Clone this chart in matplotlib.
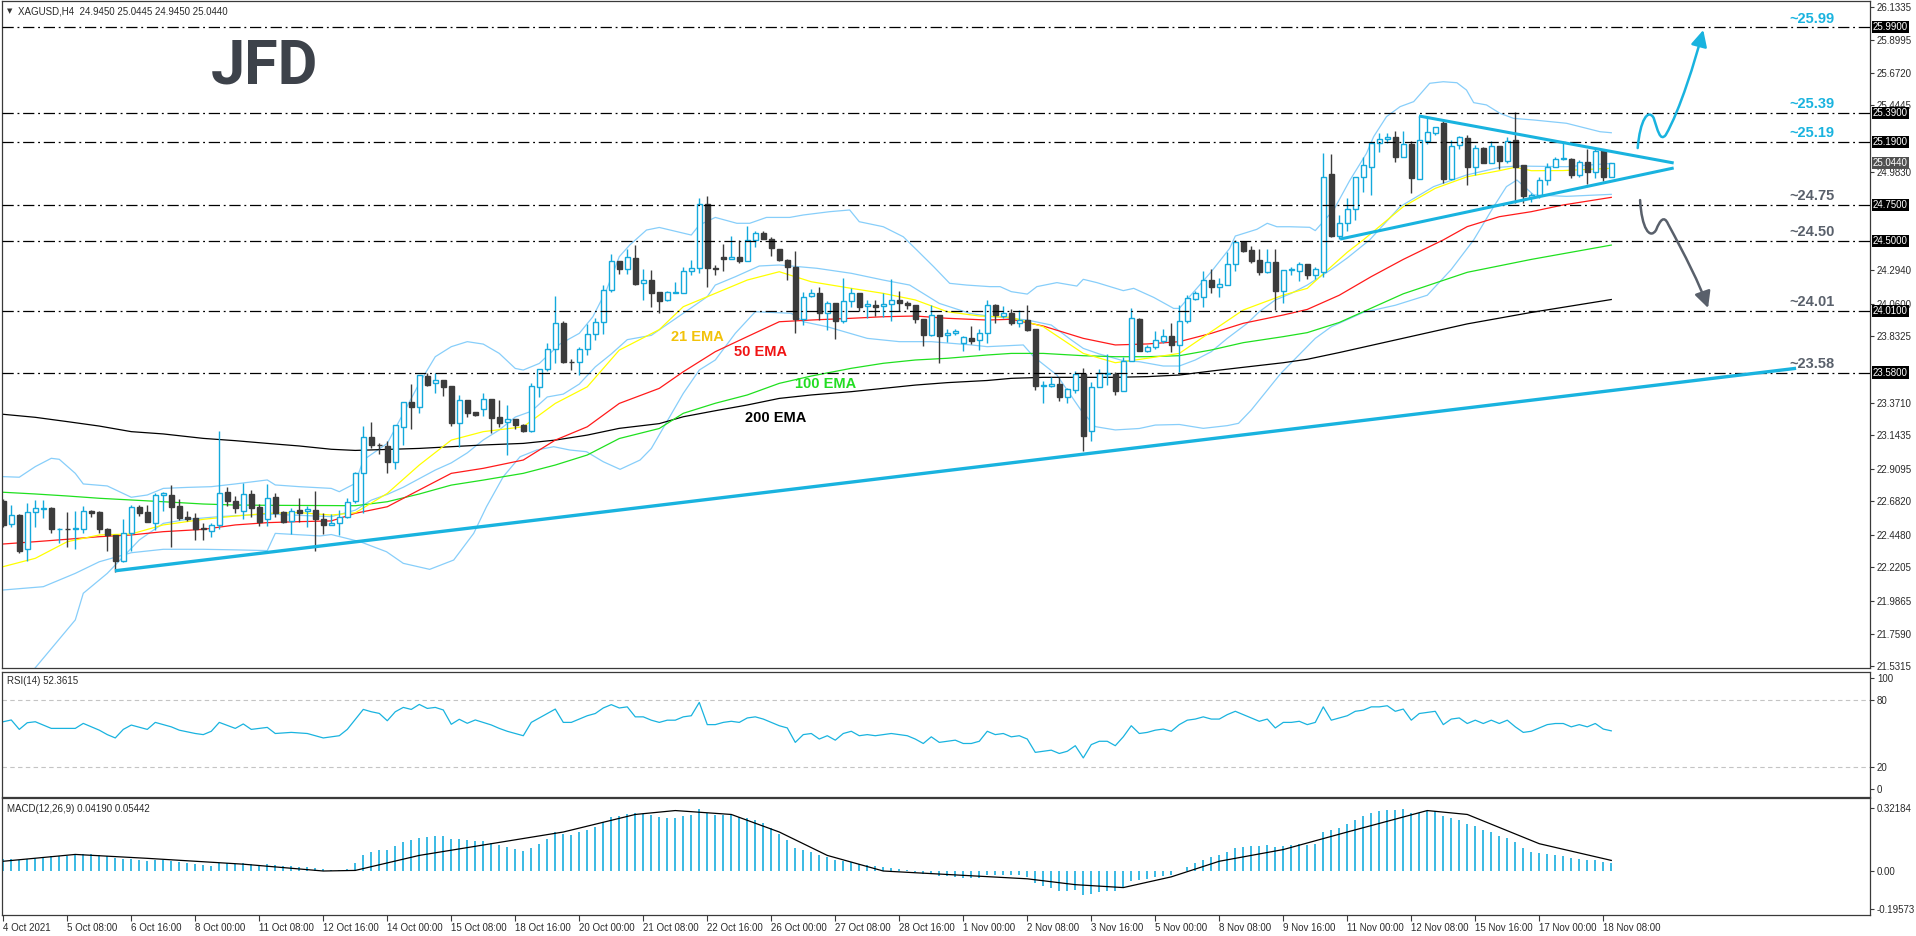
import matplotlib
matplotlib.use("Agg")
import matplotlib.pyplot as plt
import matplotlib.transforms as mtransforms
from matplotlib.path import Path
from matplotlib.patches import FancyArrowPatch
import numpy as np

# XAGUSD H4 candles, 4 Oct 2021 00:00 .. 18 Nov 2021 12:00
opens = [22.682, 22.524, 22.589, 22.347, 22.605, 22.626, 22.635, 22.486, 22.490, 22.486,
         22.486, 22.612, 22.607, 22.491, 22.445, 22.268, 22.458, 22.640, 22.607, 22.533,
         22.724, 22.724, 22.649, 22.575, 22.565, 22.491, 22.477, 22.514, 22.747, 22.686,
         22.617, 22.733, 22.645, 22.561, 22.710, 22.607, 22.542, 22.621, 22.612, 22.621,
         22.561, 22.519, 22.528, 22.570, 22.681, 22.877, 23.128, 23.075, 23.068, 22.958,
         23.202, 23.372, 23.342, 23.556, 23.505, 23.528, 23.486, 23.230, 23.389, 23.305,
         23.328, 23.393, 23.270, 23.237, 23.254, 23.214, 23.175, 23.482, 23.602, 23.742,
         23.924, 23.654, 23.651, 23.742, 23.847, 23.935, 24.154, 24.361, 24.300, 24.379,
         24.203, 24.226, 24.142, 24.087, 24.138, 24.138, 24.287, 24.308, 24.756, 24.310,
         24.384, 24.375, 24.384, 24.361, 24.505, 24.556, 24.515, 24.440, 24.366, 24.315,
         23.956, 24.114, 24.133, 23.994, 24.068, 23.938, 24.077, 24.138, 24.045, 24.049,
         24.045, 24.059, 24.087, 24.068, 24.049, 23.956, 23.845, 23.980, 23.840, 23.854,
         23.784, 23.821, 23.807, 23.859, 24.049, 23.975, 23.994, 23.924, 23.947, 23.887,
         23.487, 23.487, 23.501, 23.412, 23.459, 23.570, 23.170, 23.482, 23.570, 23.570,
         23.454, 23.659, 23.956, 23.733, 23.756, 23.798, 23.835, 23.775, 23.938, 24.096,
         24.110, 24.226, 24.180, 24.194, 24.338, 24.491, 24.435, 24.366, 24.282, 24.352,
         24.147, 24.296, 24.291, 24.338, 24.261, 24.280, 24.966, 24.533, 24.627, 24.720,
         24.943, 25.017, 25.180, 25.213, 25.222, 25.087, 25.175, 24.934, 25.199, 25.255,
         25.324, 24.933, 25.166, 25.217, 25.017, 25.147, 25.045, 25.161, 25.059, 25.203,
         25.027, 24.808, 24.822, 24.924, 25.017, 25.071, 25.068, 24.961, 25.050, 24.980,
         25.134, 24.945]
highs = [22.700, 22.654, 22.593, 22.672, 22.691, 22.691, 22.640, 22.493, 22.607, 22.617,
         22.649, 22.621, 22.612, 22.496, 22.449, 22.556, 22.654, 22.658, 22.654, 22.738,
         22.747, 22.793, 22.696, 22.612, 22.598, 22.528, 22.528, 23.175, 22.784, 22.719,
         22.812, 22.761, 22.663, 22.803, 22.742, 22.612, 22.635, 22.705, 22.649, 22.752,
         22.598, 22.593, 22.621, 22.702, 22.888, 23.207, 23.235, 23.086, 23.100, 23.212,
         23.372, 23.500, 23.561, 23.579, 23.579, 23.528, 23.486, 23.421, 23.389, 23.305,
         23.435, 23.393, 23.389, 23.351, 23.254, 23.221, 23.505, 23.602, 23.789, 24.114,
         23.942, 23.677, 23.761, 23.919, 23.961, 24.191, 24.407, 24.361, 24.440, 24.468,
         24.305, 24.296, 24.142, 24.152, 24.212, 24.315, 24.366, 24.798, 24.812, 24.328,
         24.477, 24.533, 24.505, 24.603, 24.566, 24.570, 24.524, 24.440, 24.375, 24.431,
         24.142, 24.161, 24.180, 24.077, 24.068, 24.240, 24.170, 24.138, 24.087, 24.087,
         24.133, 24.235, 24.152, 24.082, 24.049, 23.956, 24.049, 23.980, 23.887, 23.882,
         23.835, 23.905, 23.882, 24.087, 24.059, 24.045, 24.026, 24.017, 24.049, 23.887,
         23.524, 23.547, 23.552, 23.472, 23.589, 23.612, 23.514, 23.607, 23.710, 23.584,
         23.691, 24.031, 23.961, 23.775, 23.873, 23.887, 23.924, 24.049, 24.119, 24.147,
         24.287, 24.301, 24.240, 24.422, 24.505, 24.496, 24.463, 24.440, 24.440, 24.440,
         24.296, 24.319, 24.352, 24.338, 24.320, 25.115, 25.106, 24.682, 24.799, 24.947,
         25.087, 25.189, 25.250, 25.255, 25.268, 25.268, 25.199, 25.371, 25.361, 25.292,
         25.352, 25.203, 25.231, 25.241, 25.166, 25.152, 25.199, 25.161, 25.227, 25.399,
         25.027, 24.831, 24.943, 25.040, 25.087, 25.199, 25.078, 25.064, 25.138, 25.147,
         25.138, 25.0445]
lows = [22.500, 22.500, 22.319, 22.268, 22.505, 22.565, 22.458, 22.389, 22.361, 22.351,
        22.458, 22.575, 22.458, 22.337, 22.189, 22.258, 22.337, 22.579, 22.538, 22.482,
        22.617, 22.365, 22.551, 22.547, 22.412, 22.412, 22.430, 22.491, 22.649, 22.598,
        22.561, 22.575, 22.510, 22.510, 22.575, 22.533, 22.454, 22.538, 22.505, 22.333,
        22.454, 22.514, 22.446, 22.565, 22.672, 22.598, 23.051, 23.012, 22.881, 22.905,
        23.075, 23.184, 23.300, 23.486, 23.435, 23.416, 23.207, 23.063, 23.268, 23.277,
        23.277, 23.156, 23.202, 23.002, 23.184, 23.168, 23.168, 23.412, 23.589, 23.644,
        23.644, 23.598, 23.561, 23.703, 23.807, 23.851, 24.144, 24.268, 24.268, 24.191,
        24.086, 24.040, 23.994, 24.077, 24.138, 24.138, 24.259, 24.277, 24.175, 24.263,
        24.287, 24.370, 24.342, 24.361, 24.459, 24.510, 24.394, 24.361, 24.226, 23.859,
        23.910, 24.110, 23.947, 23.877, 23.817, 23.924, 24.040, 24.012, 23.961, 23.975,
        23.970, 23.942, 24.007, 24.026, 23.924, 23.766, 23.835, 23.645, 23.793, 23.845,
        23.728, 23.780, 23.738, 23.784, 23.924, 23.961, 23.914, 23.901, 23.868, 23.459,
        23.370, 23.477, 23.384, 23.370, 23.440, 23.030, 23.100, 23.477, 23.491, 23.426,
        23.449, 23.659, 23.733, 23.724, 23.742, 23.784, 23.724, 23.584, 23.924, 24.087,
        24.040, 24.138, 24.110, 24.189, 24.291, 24.422, 24.343, 24.259, 24.277, 24.017,
        24.068, 24.259, 24.217, 24.235, 24.230, 24.250, 24.524, 24.510, 24.571, 24.645,
        24.840, 24.822, 25.120, 25.180, 25.050, 25.087, 24.836, 24.929, 25.175, 25.241,
        24.901, 24.924, 25.143, 24.892, 24.957, 25.040, 25.040, 24.999, 25.045, 24.761,
        24.761, 24.771, 24.799, 24.887, 25.013, 25.064, 24.938, 24.947, 24.896, 24.938,
        24.919, 24.945]
closes = [22.519, 22.584, 22.338, 22.605, 22.633, 22.635, 22.486, 22.490, 22.486, 22.496,
          22.612, 22.603, 22.486, 22.445, 22.268, 22.458, 22.640, 22.603, 22.538, 22.724,
          22.738, 22.645, 22.565, 22.561, 22.486, 22.489, 22.514, 22.738, 22.686, 22.635,
          22.733, 22.635, 22.538, 22.705, 22.603, 22.538, 22.617, 22.603, 22.626, 22.561,
          22.519, 22.528, 22.570, 22.677, 22.877, 23.128, 23.072, 23.072, 22.958, 23.212,
          23.372, 23.337, 23.561, 23.493, 23.528, 23.482, 23.230, 23.389, 23.300, 23.286,
          23.393, 23.265, 23.230, 23.254, 23.214, 23.175, 23.486, 23.602, 23.742, 23.924,
          23.651, 23.651, 23.742, 23.847, 23.930, 24.154, 24.356, 24.300, 24.384, 24.198,
          24.224, 24.137, 24.082, 24.142, 24.142, 24.287, 24.310, 24.756, 24.308, 24.301,
          24.375, 24.384, 24.361, 24.505, 24.552, 24.515, 24.447, 24.366, 24.315, 23.956,
          24.110, 24.133, 23.998, 24.068, 23.938, 24.077, 24.138, 24.040, 24.059, 24.040,
          24.059, 24.087, 24.063, 24.049, 23.956, 23.845, 23.980, 23.835, 23.854, 23.868,
          23.826, 23.803, 23.859, 24.049, 23.980, 23.994, 23.924, 23.947, 23.877, 23.487,
          23.493, 23.501, 23.412, 23.463, 23.570, 23.140, 23.482, 23.575, 23.575, 23.454,
          23.659, 23.961, 23.733, 23.756, 23.808, 23.835, 23.775, 23.942, 24.101, 24.138,
          24.226, 24.180, 24.198, 24.338, 24.491, 24.426, 24.356, 24.282, 24.352, 24.152,
          24.296, 24.298, 24.338, 24.261, 24.300, 24.948, 24.533, 24.627, 24.720, 24.943,
          25.027, 25.180, 25.213, 25.227, 25.087, 25.173, 24.938, 25.203, 25.259, 25.292,
          24.933, 25.161, 25.222, 25.017, 25.147, 25.045, 25.161, 25.059, 25.199, 25.013,
          24.813, 24.817, 24.924, 25.017, 25.068, 25.073, 24.961, 25.050, 24.980, 25.129,
          24.948, 25.044]

# indicator lines as (bar, value)
ema21 = [(0, 22.226), (4, 22.284), (8, 22.400), (12, 22.447), (16, 22.454), (20, 22.517), (25, 22.556),
         (29, 22.579), (33, 22.598), (37, 22.603), (41, 22.586), (44, 22.602), (48, 22.737), (52, 22.935),
         (56, 23.109), (60, 23.168), (65, 23.202), (69, 23.365), (73, 23.481), (77, 23.737), (82, 23.880),
         (85, 24.040), (89, 24.133), (93, 24.226), (97, 24.284), (101, 24.214), (106, 24.168), (110, 24.133),
         (114, 24.087), (118, 24.005), (122, 23.975), (126, 23.966), (130, 23.900), (135, 23.714),
         (139, 23.649), (143, 23.680), (147, 23.714), (151, 23.866), (155, 24.017), (160, 24.121),
         (163, 24.168), (166, 24.320), (168, 24.420), (170, 24.506), (175, 24.738), (179, 24.866),
         (183, 24.947), (187, 24.989), (189, 25.013), (191, 24.989), (195, 24.990), (201, 25.006)]
ema50 = [(0, 22.384), (4, 22.400), (8, 22.417), (12, 22.435), (16, 22.447), (20, 22.470), (25, 22.486),
         (29, 22.517), (33, 22.533), (37, 22.540), (41, 22.545), (44, 22.598), (48, 22.644), (52, 22.761),
         (56, 22.877), (60, 22.912), (65, 22.970), (69, 23.109), (73, 23.202), (77, 23.365), (82, 23.470),
         (85, 23.586), (89, 23.726), (93, 23.831), (97, 23.935), (101, 23.947), (106, 23.959), (110, 23.970),
         (114, 23.975), (118, 23.959), (123, 23.947), (126, 23.952), (130, 23.905), (135, 23.819),
         (139, 23.773), (143, 23.780), (147, 23.796), (151, 23.854), (155, 23.924), (160, 23.982),
         (163, 24.021), (167, 24.120), (171, 24.250), (175, 24.370), (180, 24.506), (183, 24.599),
         (187, 24.668), (191, 24.703), (195, 24.750), (201, 24.803)]
ema100 = [(0, 22.745), (4, 22.733), (8, 22.719), (12, 22.703), (16, 22.691), (20, 22.679), (25, 22.663),
          (29, 22.656), (33, 22.654), (37, 22.653), (41, 22.652), (44, 22.651), (48, 22.679), (52, 22.733),
          (56, 22.795), (60, 22.830), (65, 22.877), (69, 22.935), (73, 23.005), (77, 23.120), (82, 23.190),
          (85, 23.296), (89, 23.366), (93, 23.424), (97, 23.505), (101, 23.556), (106, 23.610), (110, 23.645),
          (114, 23.668), (118, 23.680), (123, 23.703), (126, 23.714), (130, 23.714), (135, 23.698),
          (139, 23.691), (143, 23.691), (147, 23.698), (151, 23.738), (155, 23.789), (160, 23.831),
          (163, 23.859), (167, 23.930), (175, 24.130), (183, 24.280), (191, 24.370), (201, 24.470)]
ema200 = [(0, 23.289), (4, 23.268), (8, 23.238), (12, 23.207), (16, 23.168), (20, 23.152), (25, 23.121),
          (29, 23.105), (33, 23.086), (37, 23.068), (41, 23.045), (44, 23.037), (48, 23.044), (52, 23.051),
          (56, 23.063), (60, 23.075), (65, 23.086), (69, 23.109), (73, 23.144), (77, 23.191), (82, 23.224),
          (85, 23.272), (89, 23.314), (93, 23.354), (97, 23.400), (101, 23.424), (106, 23.447), (110, 23.470),
          (114, 23.493), (118, 23.510), (123, 23.525), (126, 23.540), (130, 23.547), (135, 23.547),
          (139, 23.547), (143, 23.552), (147, 23.563), (151, 23.591), (155, 23.617), (160, 23.649),
          (163, 23.673), (167, 23.720), (175, 23.820), (183, 23.920), (191, 24.000), (201, 24.090)]
bb_upper = [(0, 22.854), (2, 22.850), (4, 22.924), (6, 22.982), (7, 22.975), (9, 22.877), (10, 22.803),
            (13, 22.789), (16, 22.710), (18, 22.726), (20, 22.772), (23, 22.779), (26, 22.784), (29, 22.803),
            (33, 22.831), (34, 22.796), (37, 22.784), (41, 22.772), (42, 22.749), (44, 22.807), (45, 22.970),
            (48, 23.086), (50, 23.295), (52, 23.505), (54, 23.691), (56, 23.761), (58, 23.796), (60, 23.779),
            (62, 23.714), (64, 23.609), (65, 23.598), (67, 23.644), (69.6, 23.780), (72, 23.854),
            (73.7, 23.970), (75.4, 24.156), (77, 24.389), (78.3, 24.470), (80.4, 24.575), (82, 24.593),
            (86, 24.540), (87, 24.610), (89, 24.663), (91.7, 24.622), (93.3, 24.622), (95.4, 24.663),
            (98.3, 24.663), (100, 24.680), (103.3, 24.703), (105.8, 24.715), (107, 24.633), (110, 24.598),
            (112.5, 24.528), (114.2, 24.435), (116.3, 24.319), (118.3, 24.203), (120.4, 24.191),
            (123.3, 24.180), (124.6, 24.180), (126, 24.145), (128, 24.128), (129.2, 24.180), (131.7, 24.208),
            (134.2, 24.184), (135, 24.231), (136.7, 24.208), (140, 24.152), (141.3, 24.168), (143.8, 24.105),
            (146.3, 24.028), (147, 24.028), (149, 24.156), (151, 24.284), (153.3, 24.447), (154, 24.533),
            (156.7, 24.580), (158, 24.622), (159.2, 24.598), (160.8, 24.598), (163.3, 24.594), (164, 24.571),
            (166.3, 24.715), (168.3, 24.920), (170.4, 25.110), (171.3, 25.227), (172.9, 25.366),
            (174.6, 25.436), (176.3, 25.471), (178.3, 25.599), (180, 25.610), (181.7, 25.603),
            (182.9, 25.552), (183.8, 25.464), (185.4, 25.448), (187.1, 25.389), (188.8, 25.354),
            (191.3, 25.343), (195.4, 25.320), (199.6, 25.261), (201, 25.254)]
bb_middle = [(0, 21.300), (4, 21.520), (9, 21.854), (10, 22.040), (13, 22.179), (17, 22.412), (20, 22.528),
             (23, 22.556), (27, 22.575), (33, 22.593), (41, 22.575), (44, 22.620), (46, 22.690), (48, 22.730),
             (50, 22.780), (52, 22.840), (54, 22.900), (56, 22.950), (58, 23.020), (60, 23.110), (62, 23.180),
             (64, 23.270), (66, 23.310), (68, 23.410), (70, 23.430), (72, 23.500), (74, 23.620), (76, 23.710),
             (78, 23.810), (81, 23.840), (85, 23.994), (88, 24.110), (89, 24.191), (91.5, 24.249),
             (94.5, 24.324), (97, 24.331), (101.7, 24.308), (106, 24.273), (110, 24.226), (113.3, 24.191),
             (117, 24.063), (120.8, 23.994), (123, 23.975), (128, 23.947), (131, 23.912), (133.5, 23.808),
             (135, 23.749), (137, 23.710), (140, 23.663), (142, 23.656), (145, 23.626), (147, 23.626),
             (149, 23.668), (151, 23.726), (153, 23.819), (155.5, 23.924), (157, 24.005), (159, 24.087),
             (161, 24.133), (163, 24.191), (166, 24.300), (168, 24.380), (170.8, 24.506), (174.6, 24.738),
             (178.8, 24.878), (182.9, 24.959), (187.1, 25.013), (189.2, 25.022), (191.3, 25.020),
             (195.4, 25.017), (201, 25.040)]
bb_lower = [(0, 22.063), (5, 22.086), (9, 22.179), (12, 22.260), (16, 22.323), (20, 22.347), (25, 22.347),
            (29, 22.343), (33, 22.338), (34, 22.458), (39.6, 22.440), (41, 22.450), (44.6, 22.400),
            (47.9, 22.330), (50, 22.249), (53.3, 22.207), (56.3, 22.272), (58.8, 22.458), (60.4, 22.644),
            (62.5, 22.854), (64.6, 22.993), (66.7, 23.040), (68.8, 23.063), (70.8, 23.040), (72.9, 23.028),
            (75, 22.958), (77.1, 22.905), (79.6, 22.970), (81, 23.050), (85, 23.435), (87, 23.598),
            (89, 23.668), (91.5, 23.854), (94, 24.005), (98.5, 23.994), (100, 23.935), (103, 23.900),
            (108, 23.819), (112, 23.796), (116, 23.796), (121, 23.773), (123, 23.761), (127.5, 23.773),
            (128.8, 23.691), (131.7, 23.563), (134.7, 23.319), (136.5, 23.203), (139, 23.180), (142, 23.190),
            (144, 23.214), (147, 23.218), (150, 23.191), (153, 23.210), (154.4, 23.226), (156, 23.319),
            (159.7, 23.575), (164, 23.819), (166, 23.900), (170, 24.000), (174, 24.050), (178, 24.120),
            (181, 24.300), (183.8, 24.506), (186.3, 24.738), (187.9, 24.878), (189.2, 24.924),
            (191.3, 24.820), (195.4, 24.810), (201, 24.824)]

rsi = [(0, 60.6), (1, 62.2), (2, 53.7), (3, 59.7), (4, 60.6), (6, 54.6), (9, 54.6), (10, 59.1), (12, 53.0),
       (13, 49.0), (14, 46.0), (15, 53.7), (16, 57.6), (18, 53.7), (19, 60.0), (21, 56.0), (22, 53.0),
       (24, 50.0), (25, 49.0), (26, 52.0), (27, 60.0), (29, 54.6), (30, 58.6), (31, 53.7), (33, 55.5),
       (34, 50.0), (36, 51.0), (38, 50.0), (40, 46.0), (42, 48.0), (43, 53.7), (45, 71.7), (46, 69.6),
       (47, 68.1), (48, 61.5), (49, 69.6), (50, 73.5), (51, 71.7), (52, 76.2), (53, 72.6), (54, 73.5),
       (55, 71.2), (56, 58.3), (57, 62.8), (58, 59.2), (59, 62.2), (61, 57.7), (62, 54.6), (63, 52),
       (64, 50), (65, 48), (66, 60), (67, 64), (68, 68), (69, 72), (70, 60), (71, 60), (72, 63), (73, 66),
       (74, 68), (75, 73), (76, 76), (77, 73), (78, 74), (79, 65), (80, 65), (81, 62), (82, 60), (83, 62),
       (84, 62), (85, 65), (86, 66), (87, 78), (88, 58), (89, 58), (90, 60), (91, 61), (92, 60), (93, 64),
       (94, 65), (95, 63), (96, 60), (97, 57), (98, 55), (99, 42), (100, 49), (101, 50), (102, 45),
       (103, 48), (104, 44), (105, 50), (106, 52), (107, 48), (108, 49), (109, 48), (110, 49), (111, 50),
       (112, 49), (113, 48), (114, 45), (115, 41), (116, 47), (117, 42), (118, 43), (119, 44), (120, 41),
       (121, 41), (122, 43), (123, 52), (124, 49), (125, 50), (126, 47), (127, 48), (128, 45), (129, 33),
       (130, 34), (131, 35), (132, 32), (133, 34), (134, 39), (135, 28), (136, 40), (137, 43), (138, 43),
       (139, 39), (140, 47), (141, 57), (142, 50), (143, 51), (144, 53), (145, 54), (146, 52), (147, 58),
       (148, 62), (149, 63), (150, 65), (151, 63), (152, 63), (153, 67), (154, 70), (155, 67), (156, 64),
       (157, 61), (158, 63), (159, 55), (160, 60), (161, 60), (162, 61), (163, 58), (164, 60), (165, 74),
       (166, 62), (167, 64), (168, 66), (169, 70), (170, 71), (171, 74), (172, 74), (173, 75), (174, 70),
       (175, 72), (176, 62), (177, 68), (178, 69), (179, 70), (180, 58), (181, 63), (182, 64), (183, 59),
       (184, 62), (185, 59), (186, 62), (187, 59), (188, 62), (189, 56), (190, 51), (191, 52), (192, 55),
       (193, 58), (194, 59), (195, 59), (196, 56), (197, 58), (198, 56), (199, 59), (200, 54), (201, 52.4)]

macd_hist = [0.06, 0.06, 0.055, 0.06, 0.065, 0.07, 0.075, 0.075, 0.075, 0.08, 0.085, 0.085,
             0.08, 0.075, 0.065, 0.06, 0.06, 0.055, 0.05, 0.055, 0.055, 0.05, 0.045, 0.04,
             0.035, 0.03, 0.025, 0.04, 0.04, 0.035, 0.04, 0.035, 0.03, 0.035, 0.03, 0.025,
             0.025, 0.02, 0.02, 0.015, 0.01, 0.005, 0.005, 0.01, 0.04, 0.08, 0.1, 0.11,
             0.11, 0.13, 0.15, 0.16, 0.17, 0.175, 0.18, 0.18, 0.165, 0.165, 0.16, 0.155,
             0.155, 0.145, 0.135, 0.125, 0.115, 0.105, 0.12, 0.14, 0.165, 0.2, 0.19, 0.185,
             0.2, 0.21, 0.225, 0.25, 0.275, 0.28, 0.29, 0.295, 0.29, 0.285, 0.275, 0.27,
             0.27, 0.28, 0.285, 0.32, 0.295, 0.285, 0.285, 0.285, 0.275, 0.27, 0.26, 0.245,
             0.22, 0.19, 0.16, 0.12, 0.11, 0.1, 0.08, 0.07, 0.055, 0.05, 0.045, 0.035,
             0.03, 0.025, 0.02, 0.015, 0.01, 0.005, -0.005, -0.015, -0.015, -0.025, -0.025, -0.03,
             -0.035, -0.035, -0.035, -0.02, -0.02, -0.02, -0.022, -0.022, -0.03, -0.06, -0.075, -0.085,
             -0.1, -0.1, -0.095, -0.125, -0.12, -0.11, -0.1, -0.1, -0.085, -0.05, -0.045, -0.04,
             -0.03, -0.025, -0.02, 0.0, 0.02, 0.04, 0.055, 0.07, 0.08, 0.1, 0.12, 0.125,
             0.13, 0.13, 0.135, 0.125, 0.13, 0.135, 0.14, 0.135, 0.14, 0.2, 0.21, 0.22,
             0.24, 0.26, 0.28, 0.3, 0.31, 0.315, 0.315, 0.32, 0.3, 0.3, 0.31, 0.31,
             0.28, 0.27, 0.26, 0.24, 0.23, 0.21, 0.2, 0.18, 0.17, 0.15, 0.12, 0.1,
             0.09, 0.085, 0.08, 0.078, 0.065, 0.06, 0.055, 0.055, 0.045, 0.0419]
macd_signal = [(0, 0.05), (9, 0.085), (18, 0.065), (30, 0.035), (40, 0.0), (44, 0.003), (52, 0.08),
               (61, 0.14), (70, 0.20), (79, 0.29), (84, 0.31), (91, 0.29), (97, 0.20), (103, 0.08),
               (110, 0.0), (119, -0.02), (128, -0.04), (134, -0.07), (140, -0.085), (146, -0.03),
               (152, 0.05), (160, 0.11), (168, 0.20), (178, 0.31), (183, 0.29), (192, 0.14), (201, 0.0544)]

levels = [25.99, 25.39, 25.19, 24.75, 24.50, 24.01, 23.58]
level_up = [True, True, True, False, False, False, False]
price_ticks = [26.1335, 25.8995, 25.6720, 25.4445, 24.9830, 24.2940, 24.0600, 23.8325, 23.3710,
               23.1435, 22.9095, 22.6820, 22.4480, 22.2205, 21.9865, 21.7590, 21.5315]
time_labels = ["4 Oct 2021", "5 Oct 08:00", "6 Oct 16:00", "8 Oct 00:00", "11 Oct 08:00", "12 Oct 16:00",
               "14 Oct 00:00", "15 Oct 08:00", "18 Oct 16:00", "20 Oct 00:00", "21 Oct 08:00",
               "22 Oct 16:00", "26 Oct 00:00", "27 Oct 08:00", "28 Oct 16:00", "1 Nov 00:00",
               "2 Nov 08:00", "3 Nov 16:00", "5 Nov 00:00", "8 Nov 08:00", "9 Nov 16:00", "11 Nov 00:00",
               "12 Nov 08:00", "15 Nov 16:00", "17 Nov 00:00", "18 Nov 08:00"]

# drawn objects: support line, triangle, scenario arrows (bar, price)
support = [(13.96, 22.197), (224.1, 23.61)]
tri_upper = [(176.96, 25.371), (208.8, 25.043)]
tri_lower = [(167.1, 24.512), (208.8, 25.008)]
arrow_up = [(204.3, 25.147), (204.6, 25.343), (205.6, 25.426), (206.3, 25.357), (206.8, 25.273),
            (207.1, 25.189), (207.8, 25.238), (209.6, 25.412), (211.5, 25.761), (212.5, 25.971)]
arrow_down = [(204.6, 24.784), (204.8, 24.589), (205.8, 24.505), (206.6, 24.575), (207.1, 24.645),
              (207.6, 24.680), (208.1, 24.617), (210.2, 24.401), (212.1, 24.191), (213.1, 24.031)]

BULL = "#14a9dc"
BEAR = "#3c3c3c"
CYAN = "#19b3df"
GREY = "#59606b"
BAND = "#87cefa"
FRAME = "#3a3a3a"
plt.rcParams["font.family"] = ["Liberation Sans", "DejaVu Sans"]

W, H = 1916, 936
fig = plt.figure(figsize=(W / 100, H / 100), dpi=100)
fig.patch.set_facecolor("white")


def panel(top, bottom):
    a = fig.add_axes([2 / W, 1 - bottom / H, 1868 / W, (bottom - top) / H])
    a.set_xlim(-0.16, 233.34)
    for s in a.spines.values():
        s.set_color(FRAME)
        s.set_linewidth(0.9)
    a.yaxis.tick_right()
    a.tick_params(axis="y", direction="out", length=3, width=0.8, pad=2, labelsize=7,
                  colors=FRAME, labelcolor="#2a2a2a")
    a.tick_params(axis="x", bottom=False, labelbottom=False)
    return a


ax = panel(1, 668)
ax_rsi = panel(672, 797)
ax_macd = panel(798, 915)

# price panel
ax.set_ylim(21.5186, 26.1733)
ax.set_yticks(price_ticks)
ax.set_yticklabels([f"{t:.4f}" for t in price_ticks])

x = np.arange(len(closes))
o, h, l, c = (np.array(v) for v in (opens, highs, lows, closes))
up = c >= o
dn = ~up

for pts, col in [(bb_upper, BAND), (bb_middle, BAND), (bb_lower, BAND),
                 (ema200, "black"), (ema100, "#1fe01f"), (ema50, "#ff1a1a"), (ema21, "#ffff00")]:
    px, py = zip(*pts)
    ax.plot(px, py, color=col, lw=0.9, zorder=2)

ax.vlines(x[up], l[up], h[up], color=BULL, lw=1.0, zorder=3)
ax.vlines(x[dn], l[dn], h[dn], color=BEAR, lw=1.0, zorder=3)
ax.bar(x[up], np.maximum(c[up] - o[up], 0.004), bottom=o[up], width=0.6, facecolor="white",
       edgecolor=BULL, linewidth=1.0, zorder=4)
ax.bar(x[dn], np.maximum(o[dn] - c[dn], 0.004), bottom=c[dn], width=0.6, facecolor=BEAR,
       edgecolor=BEAR, linewidth=1.0, zorder=4)

# horizontal levels
trans = mtransforms.blended_transform_factory(ax.transAxes, ax.transData)
for lvl, is_up in zip(levels, level_up):
    ax.axhline(lvl, color="black", lw=0.9, ls=(0, (9, 3, 1.5, 3)), zorder=5)
    ax.annotate(f"~{lvl:.2f}", xy=(223.3, lvl), xytext=(0, 6.3), textcoords="offset points",
                ha="left", va="center", fontsize=10.5, fontweight="bold",
                color=CYAN if is_up else GREY, zorder=6)
    ax.text(1.0015, lvl, f"{lvl:.4f}", transform=trans, ha="left", va="center", fontsize=7,
            color="white", clip_on=False, zorder=7,
            bbox=dict(boxstyle="square,pad=0.12", fc="black", ec="none"))
ax.text(1.0015, closes[-1], f"{closes[-1]:.4f}", transform=trans, ha="left", va="center",
        fontsize=7, color="white", clip_on=False, zorder=7,
        bbox=dict(boxstyle="square,pad=0.12", fc="#505050", ec="none"))

# trend lines
for seg, lw in [(support, 2.4), (tri_upper, 2.2), (tri_lower, 2.2)]:
    sx, sy = zip(*seg)
    ax.plot(sx, sy, color=CYAN, lw=lw, solid_capstyle="butt", zorder=6)

# scenario arrows
for pts, col in [(arrow_up, CYAN), (arrow_down, GREY)]:
    codes = [Path.MOVETO] + [Path.CURVE4] * 9
    arr = FancyArrowPatch(path=Path(pts, codes), arrowstyle="-|>,head_length=0.7,head_width=0.35",
                          mutation_scale=14, color=col, lw=1.8, zorder=6)
    ax.add_patch(arr)

# EMA labels
for txt, px, py, col in [("21 EMA", 86.8, 23.828, "#f2c20a"), ("50 EMA", 94.6, 23.724, "#f01414"),
                         ("100 EMA", 102.8, 23.50, "#22dd22"), ("200 EMA", 96.5, 23.263, "black")]:
    ax.text(px, py, txt, ha="center", va="center", fontsize=10.5, fontweight="bold", color=col, zorder=6)

# RSI panel
ax_rsi.set_ylim(-7.2, 105.4)
rx, ry = zip(*rsi)
ax_rsi.plot(rx, ry, color=CYAN, lw=0.9)
for lv in (80, 20):
    ax_rsi.axhline(lv, color="#c4c4c4", lw=0.8, ls=(0, (4, 3)))
ax_rsi.set_yticks([100, 80, 20, 0])
ax_rsi.set_yticklabels(["100", "80", "20", "0"])

# MACD panel
ax_macd.set_ylim(-0.2256, 0.3744)
ax_macd.vlines(x, 0, macd_hist, color="#2bb4e2", lw=1.3)
sx, sy = zip(*macd_signal)
ax_macd.plot(sx, sy, color="black", lw=0.9)
ax_macd.set_yticks([0.32184, 0.0, -0.19573])
ax_macd.set_yticklabels(["0.32184", "0.00", "-0.19573"])
ax_macd.set_xticks(np.arange(0, 8 * len(time_labels), 8))
ax_macd.set_xticklabels(time_labels, ha="left", fontsize=7, color="#2a2a2a")
ax_macd.tick_params(axis="x", bottom=True, labelbottom=True, direction="out", length=4, width=0.8,
                    pad=2, colors=FRAME, labelcolor="#2a2a2a")

# header texts
fig.text(7 / W, 1 - 11 / H, "\u25bc", fontsize=5, color="#333333", va="center", family="DejaVu Sans")
fig.text(18 / W, 1 - 11 / H, "XAGUSD,H4  24.9450 25.0445 24.9450 25.0440", fontsize=7,
         color="#2a2a2a", va="center")
fig.text(7 / W, 1 - 681 / H, "RSI(14) 52.3615", fontsize=7, color="#2a2a2a", va="center")
fig.text(7 / W, 1 - 809 / H, "MACD(12,26,9) 0.04190 0.05442", fontsize=7, color="#2a2a2a", va="center")
fig.text(211 / W, 1 - 38 / H, "JFD", fontsize=44, fontweight="bold", color="#3d424a", va="top",
         ha="left", family=["Roboto", "DejaVu Sans"])

fig.savefig("out.png", dpi=100)
